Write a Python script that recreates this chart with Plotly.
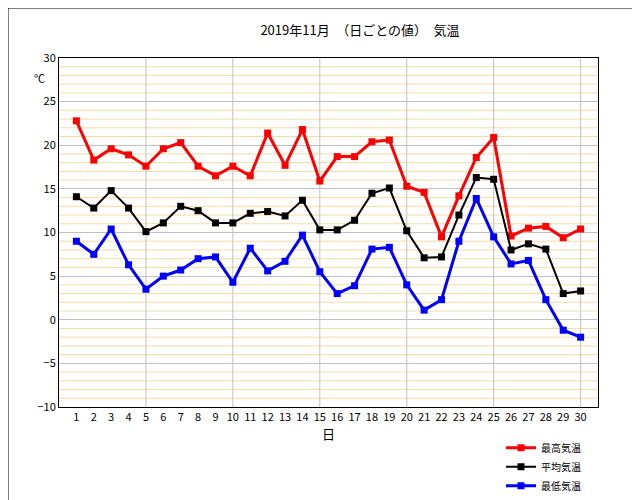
import plotly.graph_objects as go

days = list(range(1, 31))
high = [22.8, 18.3, 19.6, 18.9, 17.6, 19.6, 20.3, 17.6, 16.5, 17.6, 16.5, 21.4, 17.7, 21.8, 15.9,
        18.7, 18.7, 20.4, 20.6, 15.3, 14.6, 9.5, 14.2, 18.6, 20.9, 9.6, 10.5, 10.7, 9.4, 10.4]
mean = [14.1, 12.8, 14.8, 12.8, 10.1, 11.1, 13.0, 12.5, 11.1, 11.1, 12.2, 12.4, 11.9, 13.7, 10.3,
        10.3, 11.4, 14.5, 15.1, 10.2, 7.1, 7.2, 12.0, 16.3, 16.1, 8.0, 8.7, 8.1, 3.0, 3.3]
low = [9.0, 7.5, 10.4, 6.3, 3.5, 5.0, 5.7, 7.0, 7.2, 4.3, 8.2, 5.6, 6.7, 9.7, 5.5,
       3.0, 3.9, 8.1, 8.3, 4.0, 1.1, 2.3, 9.0, 13.9, 9.5, 6.4, 6.8, 2.3, -1.2, -2.0]

font = "Noto Sans CJK JP"
fig = go.Figure()
for name, ys, col, w in [("最高気温", high, "#ff0000", 3), ("平均気温", mean, "#000000", 2),
                         ("最低気温", low, "#0000ff", 3)]:
    fig.add_trace(go.Scatter(x=days, y=ys, name=name, mode="lines+markers",
                             line=dict(color=col, width=w),
                             marker=dict(symbol="square", size=7, color=col)))

L, R, T, B = 51, 50, 50, 101
pw, ph = 640 - L - R, 500 - T - B
# minor horizontal grid (every 1 degree)
for v in range(-9, 30):
    if v % 5:
        fig.add_shape(type="line", xref="paper", yref="y", x0=0, x1=1, y0=v, y1=v,
                      line=dict(color="#f5dca8", width=1), layer="below")
# outer frame
fig.add_shape(type="rect", xref="paper", yref="paper", x0=-L / pw, x1=(pw + R - 1) / pw,
              y0=-(B - 1) / ph, y1=(ph + T) / ph, line=dict(color="black", width=1))
fig.update_layout(
    width=640, height=500, margin=dict(l=L, r=R, t=T, b=B, autoexpand=False),
    paper_bgcolor="white", plot_bgcolor="white",
    font=dict(family=font, size=11, color="black"),
    title=dict(text="2019年11月　（日ごとの値）　気温", x=0.55, y=0.965, xanchor="center",
               font=dict(size=13)),
    showlegend=True,
    legend=dict(x=0.82, y=-0.075, xanchor="left", yanchor="top", bgcolor="rgba(0,0,0,0)",
                font=dict(size=11), itemwidth=30, tracegroupgap=0, tracegroupgap_=None)
    if False else dict(x=0.82, y=-0.075, xanchor="left", yanchor="top",
                       bgcolor="rgba(0,0,0,0)", font=dict(size=10), itemwidth=30),
    xaxis=dict(range=[0, 31], tickvals=days, showgrid=False, showline=True, linecolor="black",
               mirror=True, zeroline=False, ticks="", title=dict(text="日", standoff=2)),
    yaxis=dict(range=[-10, 30], dtick=5, gridcolor="#c0c0c0", showline=True, linecolor="black",
               mirror=True, zeroline=False, ticks=""),
    annotations=[dict(text="℃", xref="paper", yref="paper", x=-0.05, y=0.97, showarrow=False,
                      font=dict(size=11))],
)
for d in [5, 10, 15, 20, 25, 30]:
    fig.add_shape(type="line", xref="x", yref="paper", x0=d, x1=d, y0=0, y1=1,
                  line=dict(color="#c0c0c0", width=1), layer="below")
fig.write_html("out.html")
